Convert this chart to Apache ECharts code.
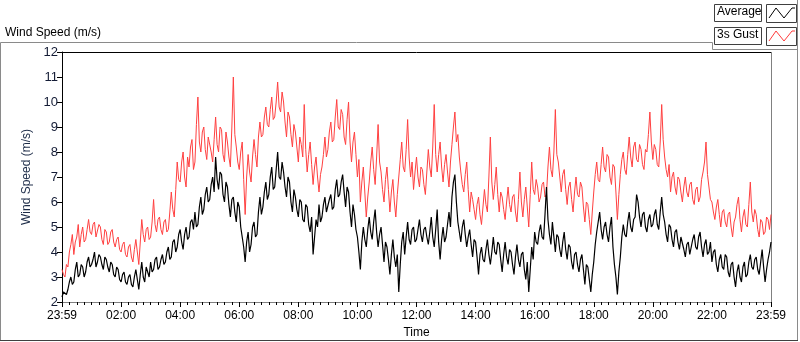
<!DOCTYPE html>
<html>
<head>
<meta charset="utf-8">
<script src="https://cdn.jsdelivr.net/npm/echarts@6/dist/echarts.min.js"></script>
<style>
  html, body { margin: 0; padding: 0; background: #fff; }
  #chart { width: 800px; height: 342px; }
</style>
</head>
<body>
<div id="chart"></div>
<script>
// one reading every 3 minutes, from 23:59 to 23:59 next day
var stepMin = 3;
var tickLabels = ['23:59', '02:00', '04:00', '06:00', '08:00', '10:00', '12:00',
                  '14:00', '16:00', '18:00', '20:00', '22:00', '23:59'];

var average = [
    2.2,2.4, 2.4,2.3, 2.5,2.8, 3.0,2.7, 2.8,3.3, 3.6,3.0, 3.1,3.5, 3.4,3.0, 3.2,3.6, 3.8,3.4,
    3.5,3.7, 4.0,3.4, 3.6,3.9, 3.8,3.5, 3.3,3.8, 3.7,3.4, 3.2,3.6, 3.5,3.1, 3.0,3.4, 3.3,2.9,
    2.8,3.1, 3.2,2.8, 2.7,3.0, 3.1,2.7, 2.6,3.0, 3.3,2.9, 2.5,3.1, 3.6,3.0, 2.8,3.4, 3.2,3.0,
    3.6,3.2, 3.3,3.7, 3.8,3.3, 3.4,3.7, 3.9,3.5, 3.6,4.0, 4.2,3.7, 3.8,4.4, 4.5,4.0, 4.2,4.7,
    4.9,4.4, 4.1,4.7, 5.0,4.5, 4.6,5.2, 5.3,4.9, 5.6,5.0, 5.1,5.8, 6.2,5.5, 5.7,6.3, 6.6,6.0,
    6.1,6.7, 7.0,6.4, 7.8,6.9, 6.5,7.2, 7.1,6.3, 6.0,6.8, 6.6,5.9, 5.4,6.1, 6.2,5.6, 5.2,6.0,
    5.8,5.0, 4.6,4.2, 3.6,4.4, 4.8,4.0, 4.3,5.0, 5.2,4.6, 4.7,5.6, 6.2,5.5, 5.8,6.4, 6.8,6.1,
    6.3,7.0, 7.4,6.5, 6.6,7.3, 8.0,7.0, 6.9,7.6, 7.2,6.6, 6.2,7.0, 6.8,6.0, 5.6,6.5, 6.2,5.7,
    5.4,6.1, 6.0,5.3, 5.2,5.9, 5.8,5.1, 4.8,5.4, 3.9,4.6, 5.3,5.0, 5.9,5.2, 5.4,5.9, 6.2,5.6,
    5.6,6.1, 6.3,5.7, 5.8,6.5, 6.9,6.2, 6.3,6.8, 7.1,6.4, 5.8,6.6, 6.4,5.6, 5.0,5.9, 5.5,4.9,
    4.6,4.0, 3.3,4.4, 5.0,4.5, 4.2,4.9, 5.4,4.8, 4.5,5.2, 5.7,4.8, 4.2,4.7, 5.0,4.3, 3.6,4.4,
    4.2,3.7, 3.1,3.9, 4.5,3.8, 3.4,3.9, 2.4,3.5, 4.4,4.8, 3.9,4.6, 5.2,4.5, 4.3,4.9, 5.0,4.4,
    4.5,4.9, 5.3,4.7, 4.4,4.9, 5.0,4.6, 4.3,4.8, 5.4,4.6, 4.2,4.9, 5.7,4.4, 3.7,4.5, 5.0,4.4,
    4.6,5.1, 5.6,5.0, 6.2,6.8, 7.1,6.0, 5.2,4.8, 4.4,5.0, 5.3,4.7, 4.2,4.6, 4.9,4.3, 3.8,4.5,
    4.4,3.8, 3.1,3.9, 4.2,3.7, 3.6,4.1, 4.5,3.9, 3.5,4.0, 4.6,4.0, 3.9,4.4, 4.3,3.7, 3.2,3.9,
    4.4,3.8, 3.5,4.1, 4.0,3.5, 3.1,3.8, 4.3,3.7, 3.4,3.9, 4.0,3.3, 2.9,3.6, 2.4,3.3, 4.2,3.7,
    4.8,4.4, 4.3,4.8, 5.1,4.6, 4.5,5.5, 6.6,5.3, 4.7,4.3, 5.2,4.6, 4.0,4.7, 4.6,4.1, 3.8,4.4,
    4.8,4.1, 3.7,4.3, 4.2,3.6, 3.3,3.9, 4.0,3.5, 3.2,3.7, 3.9,3.3, 2.7,3.5, 3.4,2.9, 2.4,3.1,
    3.6,4.3, 4.8,5.2, 5.6,4.9, 4.5,5.0, 5.2,4.7, 4.4,5.0, 5.4,4.2, 3.5,3.0, 2.3,3.2, 3.8,4.6,
    5.1,4.7, 4.6,5.2, 5.6,5.0, 4.8,5.3, 5.4,6.3, 6.0,5.4, 5.0,5.5, 5.6,5.0, 4.8,5.3, 5.5,5.0,
    5.1,5.5, 5.7,5.1, 4.9,5.6, 6.2,5.5, 5.2,4.7, 4.4,5.1, 5.0,4.5, 4.2,4.8, 4.9,4.4, 4.1,4.6,
    4.6,4.1, 3.8,4.3, 4.4,3.9, 3.9,4.5, 4.7,4.2, 4.1,4.6, 4.8,4.2, 3.8,4.3, 4.5,3.9, 4.0,4.4,
    3.6,4.0, 4.1,3.5, 3.2,3.7, 3.9,3.4, 3.3,3.9, 3.8,3.2, 3.0,3.5, 3.6,3.0, 2.6,3.2, 3.5,3.0,
    2.8,3.4, 3.6,3.0, 3.1,3.6, 3.9,3.4, 3.3,3.7, 3.8,3.3, 3.1,3.6, 4.1,3.4, 2.8,3.3, 3.7,4.0,
    4.4
];

var gust = [
    3.3,3.1, 3.0,3.5, 3.4,4.0, 4.3,4.7, 3.9,4.4, 4.6,5.1, 4.2,4.7, 5.0,4.4, 4.5,4.9, 5.3,4.8,
    4.7,5.1, 5.2,4.6, 4.6,5.1, 5.0,4.5, 4.3,4.9, 4.8,4.3, 4.4,4.8, 4.9,4.4, 4.2,4.5, 4.6,4.1,
    4.0,4.3, 4.4,3.9, 3.8,4.2, 4.3,3.8, 3.6,4.1, 4.5,4.0, 3.5,4.4, 5.3,4.7, 4.4,4.9, 5.0,4.5,
    4.6,5.2, 6.1,5.1, 4.8,5.3, 5.4,4.9, 4.7,5.2, 5.3,4.8, 4.9,5.6, 6.4,5.7, 5.4,6.5, 7.6,6.9,
    6.8,7.6, 8.0,7.0, 6.6,7.8, 7.4,8.2, 8.5,7.3, 7.6,9.1, 10.2,8.4, 8.0,8.8, 9.0,8.1, 7.7,8.6,
    8.6,8.0, 7.6,8.5, 9.4,8.3, 8.0,9.0, 8.9,7.9, 7.6,8.8, 8.4,7.8, 7.4,9.0, 11.0,8.7, 8.2,7.6,
    7.3,8.0, 8.4,6.9, 5.5,7.0, 7.9,7.2, 6.8,7.8, 8.5,7.9, 7.4,8.6, 9.2,8.6, 8.7,9.4, 9.8,9.1,
    9.0,9.7, 10.2,9.3, 9.4,10.0, 10.8,9.8, 9.6,10.4, 10.0,9.2, 8.6,9.6, 9.4,8.7, 8.2,9.1, 8.8,8.2,
    7.6,8.6, 8.3,7.8, 9.9,8.1, 7.2,7.9, 8.4,7.5, 6.7,7.4, 7.8,7.0, 6.4,7.1, 7.4,7.9, 8.6,7.8,
    8.1,8.8, 9.2,8.4, 8.5,9.4, 10.1,9.0, 8.9,9.7, 9.5,8.6, 8.3,9.3, 10.0,8.4, 7.6,8.4, 8.8,7.9,
    7.0,7.7, 6.0,6.8, 7.4,6.4, 5.4,6.2, 6.8,7.6, 8.2,7.3, 6.7,7.8, 9.1,7.6, 7.2,6.5, 6.0,6.9,
    7.4,6.5, 5.6,6.4, 6.9,6.0, 5.4,6.3, 7.0,7.7, 8.4,7.4, 7.2,8.1, 9.3,7.8, 7.0,7.6, 6.5,7.2,
    7.8,7.0, 6.6,7.4, 7.3,6.7, 6.3,7.2, 8.1,7.4, 7.0,8.2, 9.9,7.9, 7.2,7.9, 8.4,7.4, 6.8,7.5,
    7.9,7.2, 6.6,7.6, 8.3,9.0, 9.6,8.4, 8.7,7.8, 7.2,6.7, 6.4,7.1, 7.6,6.5, 5.6,6.4, 6.1,5.7,
    5.3,5.9, 6.2,5.5, 5.1,5.8, 6.5,5.9, 5.6,7.0, 8.6,6.8, 6.1,6.7, 7.4,6.3, 5.6,6.4, 6.2,5.7,
    5.3,6.0, 6.6,5.9, 5.6,6.2, 6.3,5.6, 5.2,6.1, 7.2,6.0, 5.4,6.1, 6.6,5.8, 5.0,6.3, 7.6,6.5,
    6.3,6.9, 6.6,6.0, 6.2,6.7, 6.8,6.2, 6.3,7.4, 8.2,7.3, 7.0,8.0, 9.7,7.9, 7.6,7.0, 6.4,7.1,
    7.3,6.5, 5.9,6.6, 6.8,6.1, 5.6,6.4, 7.0,6.3, 6.2,6.8, 6.6,5.8, 5.2,6.0, 5.9,5.3, 4.7,5.6,
    6.4,7.1, 7.6,6.9, 6.8,7.5, 8.2,7.4, 7.2,7.9, 7.8,7.0, 6.7,7.5, 7.4,6.4, 5.3,6.3, 7.1,7.7,
    8.0,7.3, 7.1,7.9, 8.6,7.8, 7.4,8.2, 8.4,7.7, 7.6,8.3, 8.1,7.5, 7.3,8.1, 8.0,8.7, 9.6,8.4,
    7.7,8.3, 8.1,7.5, 7.4,8.4, 9.9,8.5, 7.8,7.3, 7.0,7.5, 6.4,7.0, 7.2,6.6, 6.3,7.0, 6.9,6.4,
    6.0,6.6, 7.0,6.4, 6.2,6.7, 6.8,6.1, 5.9,6.5, 6.6,6.0, 6.2,6.9, 7.2,7.6, 8.4,7.1, 6.6,6.1,
    6.0,5.6, 5.3,5.8, 6.1,5.5, 5.0,5.6, 5.7,5.2, 5.0,5.5, 5.6,5.0, 4.6,5.2, 5.4,5.9, 6.2,5.3,
    4.8,5.4, 5.7,5.1, 5.0,5.9, 6.8,5.6, 5.2,5.7, 5.5,4.9, 4.6,5.3, 5.2,4.7, 4.8,5.4, 5.3,4.9,
    5.5
];

function toPoints(values) {
    return values.map(function (v, i) { return [i * stepMin, v]; });
}

var myChart = echarts.init(document.getElementById('chart'), null, { renderer: 'canvas' });
var font = 'Liberation Sans';

var option = {
    animation: false,
    backgroundColor: '#ffffff',
    grid: { left: 62, right: 29, top: 52, bottom: 40, show: false, outerBoundsMode: 'none', containLabel: false },
    xAxis: {
        type: 'value',
        min: 0,
        max: 1440,
        interval: 120,
        name: 'Time',
        nameLocation: 'middle',
        nameGap: 24,
        nameTextStyle: { color: '#000', fontSize: 12, fontFamily: font },
        axisLine: { show: true, lineStyle: { color: '#808080', width: 1 } },
        axisTick: { show: true, length: 5, lineStyle: { color: '#000' } },
        minorTick: { show: true, splitNumber: 8, length: 3, lineStyle: { color: '#000' } },
        axisLabel: {
            color: '#000', fontSize: 12, fontFamily: font, margin: 8,
            formatter: function (v) { return tickLabels[Math.round(v / 120)]; }
        },
        splitLine: { show: false }
    },
    yAxis: {
        type: 'value',
        min: 2,
        max: 12,
        interval: 1,
        name: 'Wind Speed (m/s)',
        nameLocation: 'middle',
        nameGap: 22,
        nameTextStyle: { color: '#1d2c48', fontSize: 12, fontFamily: font },
        axisLine: { show: true, lineStyle: { color: '#000', width: 1 } },
        axisTick: { show: true, length: 5, lineStyle: { color: '#000' } },
        axisLabel: { color: '#141c36', fontSize: 13, fontFamily: font, margin: 4 },
        splitLine: { show: false }
    },
    graphic: [
        // outer panel frame
        { type: 'polyline', silent: true, shape: { points: [[0.5, 341], [0.5, 42.5], [712.5, 42.5], [712.5, 49.5], [797.5, 49.5]] },
          style: { stroke: '#8a8a8a', fill: null, lineWidth: 1 } },
        { type: 'line', silent: true, shape: { x1: 797.5, y1: 0, x2: 797.5, y2: 341 }, style: { stroke: '#8a8a8a', lineWidth: 1 } },
        { type: 'line', silent: true, shape: { x1: 0, y1: 340.5, x2: 798, y2: 340.5 }, style: { stroke: '#404040', lineWidth: 1 } },
        // plot frame top / right
        { type: 'line', silent: true, shape: { x1: 62, y1: 52.5, x2: 771, y2: 52.5 }, style: { stroke: '#000', lineWidth: 1 } },
        { type: 'line', silent: true, shape: { x1: 771.5, y1: 52, x2: 771.5, y2: 302 }, style: { stroke: '#808080', lineWidth: 1 } },
        // chart label
        { type: 'text', left: 5, top: 27, style: { text: 'Wind Speed (m/s)', fill: '#000', font: '12px "Liberation Sans"' } },
        // legend boxes
        { type: 'rect', silent: true, shape: { x: 714.5, y: 4.5, width: 47, height: 17 }, style: { fill: '#fff', stroke: '#404040', lineWidth: 1 } },
        { type: 'rect', silent: true, shape: { x: 766.5, y: 4.5, width: 30, height: 18 }, style: { fill: '#fff', stroke: '#404040', lineWidth: 1 } },
        { type: 'rect', silent: true, shape: { x: 714.5, y: 27.5, width: 47, height: 17 }, style: { fill: '#fff', stroke: '#404040', lineWidth: 1 } },
        { type: 'rect', silent: true, shape: { x: 766.5, y: 27.5, width: 30, height: 18 }, style: { fill: '#fff', stroke: '#404040', lineWidth: 1 } },
        { type: 'text', left: 717, top: 6, style: { text: 'Average', fill: '#000', font: '12px "Liberation Sans"' } },
        { type: 'text', left: 717, top: 29, style: { text: '3s Gust', fill: '#000', font: '12px "Liberation Sans"' } },
        { type: 'polyline', silent: true, shape: { points: [[769, 18], [776, 8], [784, 18], [792, 8], [795, 8]] },
          style: { stroke: '#000', fill: null, lineWidth: 1 } },
        { type: 'polyline', silent: true, shape: { points: [[769, 41], [776, 31], [784, 41], [792, 31], [795, 31]] },
          style: { stroke: '#ff3b3b', fill: null, lineWidth: 1 } }
    ],
    series: [
        {
            name: '3s Gust',
            type: 'line',
            data: toPoints(gust),
            showSymbol: false,
            symbol: 'none',
            lineStyle: { color: '#ff4040', width: 1 },
            z: 2
        },
        {
            name: 'Average',
            type: 'line',
            data: toPoints(average),
            showSymbol: false,
            symbol: 'none',
            lineStyle: { color: '#000000', width: 1.2 },
            z: 3
        }
    ]
};

myChart.setOption(option);
</script>
</body>
</html>
